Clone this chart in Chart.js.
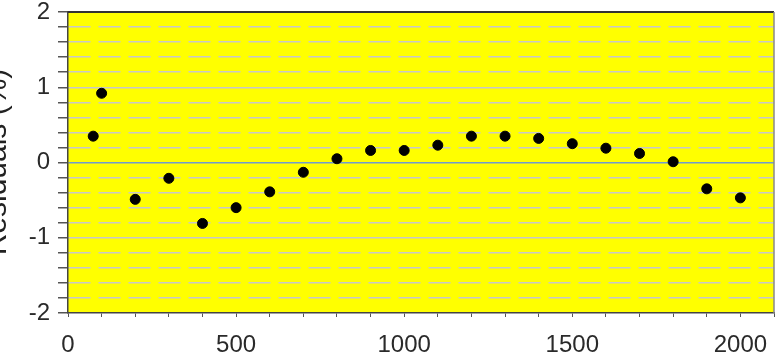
<!DOCTYPE html>
<html>
<head>
<meta charset="utf-8">
<script src="https://cdn.jsdelivr.net/npm/chart.js@4"></script>
<style>
  html, body { margin: 0; padding: 0; background: #ffffff; }
  #wrap { width: 780px; height: 361px; }
</style>
</head>
<body>
<div id="wrap"><canvas id="myChart" width="780" height="361"></canvas></div>
<script>
// data
var xValues = [75, 100, 200, 300, 400, 500, 600, 700, 800, 900, 1000, 1100, 1200, 1300, 1400, 1500, 1600, 1700, 1800, 1900, 2000];
var residuals = [0.35, 0.92, -0.49, -0.21, -0.81, -0.60, -0.39, -0.13, 0.05, 0.16, 0.16, 0.23, 0.35, 0.35, 0.32, 0.25, 0.19, 0.12, 0.01, -0.35, -0.47];
var xTickLabels = [0, 500, 1000, 1500, 2000];
var yTickLabels = [-2, -1, 0, 1, 2];
var yTitle = 'Residuals (%)';

var tickFont = '"Liberation Sans", Arial, sans-serif';

var points = xValues.map(function (x, i) {
    return { x: x, y: residuals[i] };
});

function isWhole(v) {
    return Math.abs(v - Math.round(v)) < 1e-6;
}

// yellow plot area + frame
var plotFrame = {
    id: 'plotFrame',
    beforeDraw: function (chart) {
        var a = chart.chartArea;
        var ctx = chart.ctx;
        ctx.save();
        ctx.fillStyle = '#ffff00';
        ctx.fillRect(a.left, a.top, a.right - a.left, a.bottom - a.top);
        ctx.restore();
    },
    afterDatasetsDraw: function (chart) {
        var a = chart.chartArea;
        var ctx = chart.ctx;
        ctx.save();
        ctx.lineWidth = 2;
        ctx.strokeStyle = '#333333';
        ctx.beginPath();
        ctx.moveTo(a.left, a.top);
        ctx.lineTo(a.right, a.top);
        ctx.stroke();
        ctx.lineWidth = 1.5;
        ctx.strokeStyle = '#888888';
        ctx.beginPath();
        ctx.moveTo(a.right, a.top);
        ctx.lineTo(a.right, a.bottom);
        ctx.stroke();
        ctx.restore();
    },
    afterDraw: function (chart) {
        // y axis title, partly cut off by the left edge as in the original
        var ctx = chart.ctx;
        ctx.save();
        ctx.translate(6, 162);
        ctx.rotate(-Math.PI / 2);
        ctx.font = '30px "Liberation Sans", Arial, sans-serif';
        ctx.fillStyle = '#222222';
        ctx.textAlign = 'center';
        ctx.textBaseline = 'alphabetic';
        ctx.fillText(yTitle, 0, 0);
        ctx.restore();
    }
};

var myChart = new Chart(
    document.getElementById('myChart'),
    {
        type: 'scatter',
        data: {
            datasets: [{
                label: 'Residuals',
                data: points,
                backgroundColor: '#000000',
                borderColor: '#000000',
                pointRadius: 5,
                pointHoverRadius: 5
            }]
        },
        options: {
            responsive: false,
            animation: false,
            events: [],
            layout: {
                padding: { top: 12, right: 2, left: 0, bottom: 0 }
            },
            plugins: {
                legend: { display: false },
                tooltip: { enabled: false }
            },
            scales: {
                x: {
                    type: 'linear',
                    min: 0,
                    max: 2100,
                    afterFit: function (scale) {
                        scale.height = 48;
                        scale.paddingLeft = 0;
                        scale.paddingRight = 0;
                    },
                    ticks: {
                        stepSize: 100,
                        autoSkip: false,
                        maxRotation: 0,
                        padding: 14,
                        color: '#2a2a2a',
                        font: { family: tickFont, size: 24 },
                        callback: function (v) {
                            return xTickLabels.indexOf(v) >= 0 ? String(v) : '';
                        }
                    },
                    grid: {
                        drawOnChartArea: false,
                        drawTicks: true,
                        tickLength: 4,
                        tickColor: '#555555'
                    },
                    border: { color: '#444444', width: 1.5 }
                },
                y: {
                    type: 'linear',
                    min: -2,
                    max: 2,
                    afterFit: function (scale) {
                        scale.width = 68;
                        scale.paddingTop = 0;
                        scale.paddingBottom = 0;
                    },
                    ticks: {
                        stepSize: 0.2,
                        autoSkip: false,
                        padding: 8,
                        color: '#2a2a2a',
                        font: { family: tickFont, size: 24 },
                        callback: function (v) {
                            var r = Math.round(v);
                            return (isWhole(v) && yTickLabels.indexOf(r) >= 0) ? String(r) : '';
                        }
                    },
                    grid: {
                        drawTicks: true,
                        tickLength: 10,
                        tickColor: '#555555',
                        lineWidth: 1.5,
                        color: function (ctx) {
                            if (!ctx.tick) return '#c8c8c8';
                            var v = ctx.tick.value;
                            if (Math.abs(v) < 1e-6) return '#6f9bd1';
                            if (Math.abs(Math.abs(v) - 2) < 1e-6) return 'rgba(0,0,0,0)';
                            return '#c8c8c8';
                        }
                    },
                    border: {
                        color: '#444444',
                        width: 1.5,
                        dash: function (ctx) {
                            if (!ctx.tick) return [];
                            return isWhole(ctx.tick.value) ? [] : [22, 8];
                        }
                    }
                }
            }
        },
        plugins: [plotFrame]
    }
);
</script>
</body>
</html>
